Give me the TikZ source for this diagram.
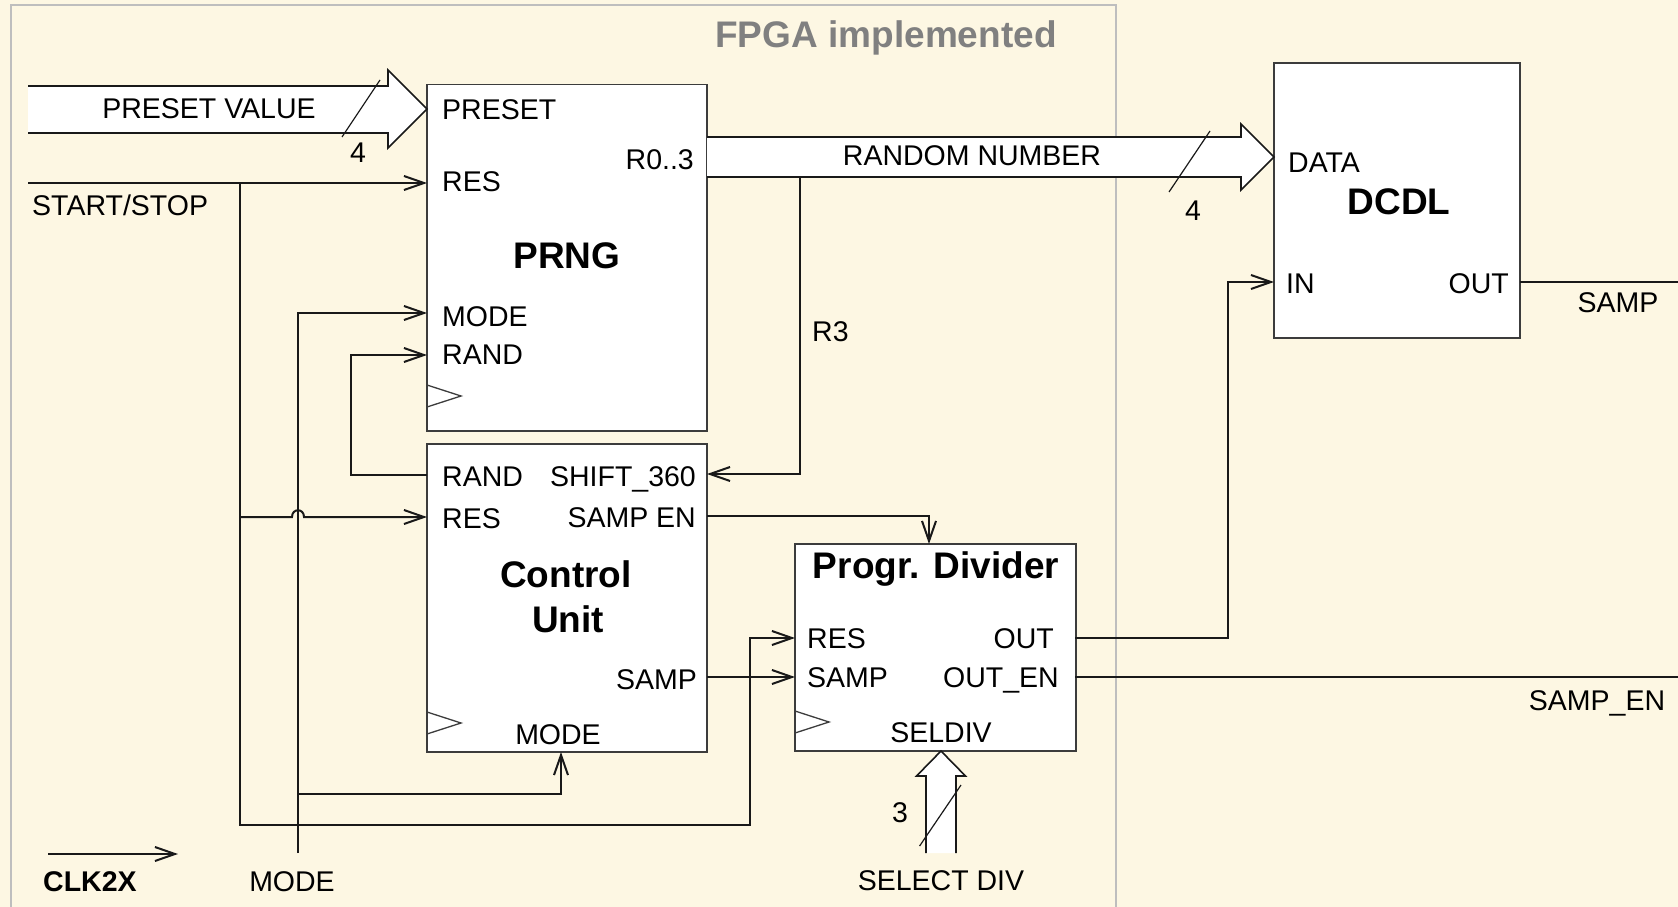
\documentclass[tikz,border=0pt]{standalone}
\usepackage{fontspec}
\setmainfont{Liberation Sans}
\usetikzlibrary{arrows.meta}
\definecolor{bgc}{RGB}{253,247,227}
\definecolor{fpgac}{RGB}{190,190,190}
\definecolor{boxc}{RGB}{60,60,60}
\definecolor{wirec}{RGB}{25,25,25}
\definecolor{grayt}{RGB}{128,128,128}
\begin{document}
\begin{tikzpicture}[x=1pt,y=-1pt,
  lbl/.style={inner sep=0pt, font=\fontsize{28.5}{34}\selectfont, text=black},
  blbl/.style={inner sep=0pt, font=\fontsize{37}{44}\selectfont\bfseries, text=black},
  blk/.style={draw=boxc, line width=1.5pt, fill=white, inner sep=0pt, outer sep=0pt, anchor=north west},
  wire/.style={draw=wirec, line width=2pt},
  arr/.style={wire, -{Straight Barb[length=20pt,width=14pt]}},
  clk/.style={draw=boxc, line width=1.3pt},
  bus/.style={draw=wirec, line width=1.6pt, line join=miter},
  slash/.style={draw=wirec, line width=1.2pt}]
\useasboundingbox (0,0) rectangle (1678,907);
\clip (0,0) rectangle (1678,907);
\fill[bgc] (0,0) rectangle (1678,907);
% FPGA region
\draw[fpgac, line width=2pt] (11,920) -- (11,5) -- (1116,5) -- (1116,920);
\node[blbl, text=grayt, anchor=base] (fpgatitle) at (886,48) {FPGA implemented};

% blocks
\node[blk, minimum width=280pt, minimum height=346.5pt] (prng) at (427,84.5) {};
\node[blk, minimum width=280pt, minimum height=308pt] (cu) at (427,444) {};
\node[blk, minimum width=281pt, minimum height=207pt] (div) at (795,544) {};
\node[blk, minimum width=246pt, minimum height=275pt] (dcdl) at (1274,63) {};

% clock triangles
\draw[clk] (427,385) -- (461,396) -- (427,407);
\draw[clk] (427,712) -- (461,723) -- (427,734);
\draw[clk] (795,711) -- (829,722) -- (795,733);

% pin coordinates
\coordinate (ssin) at (28,183);
\coordinate (prngres) at (427,183);
\coordinate (prngmode) at (427,313);
\coordinate (prngrand) at (427,355);
\coordinate (curand) at (427,475);
\coordinate (cures) at (427,517);
\coordinate (cushift) at (707,474);
\coordinate (cusampen) at (707,516);
\coordinate (cusamp) at (707,677);
\coordinate (cumode) at (561,752);
\coordinate (divtop) at (929,544);
\coordinate (divres) at (795,638);
\coordinate (divsamp) at (795,677);
\coordinate (divout) at (1075,638);
\coordinate (divouten) at (1075,677);
\coordinate (dcdlin) at (1274,282);
\coordinate (dcdlout) at (1520,282);
\coordinate (sampout) at (1678,282);
\coordinate (sampen) at (1678,677);
\coordinate (modein) at (298,853);
\coordinate (clkA) at (48,854);
\coordinate (clkB) at (178,854);

% wires
\draw[arr] (ssin) -- (prngres);
\draw[arr] (240,183) -- (240,825) -- (750,825) -- (750,638) -- (divres);
\draw[arr] (240,517) -- (292,517) .. controls (292,508) and (304,508) .. (304,517) -- (cures);
\draw[arr] (modein) -- (298,313) -- (prngmode);
\draw[arr] (298,794) -- (561,794) -- (cumode);
\draw[arr] (curand) -- (351,475) -- (351,355) -- (prngrand);
\draw[arr] (800,177) -- (800,474) -- (cushift);
\draw[arr] (cusampen) -- (929,516) -- (divtop);
\draw[arr] (cusamp) -- (divsamp);
\draw[arr] (divout) -- (1228,638) -- (1228,282) -- (dcdlin);
\draw[wire] (divouten) -- (sampen);
\draw[wire] (dcdlout) -- (sampout);
\draw[arr] (clkA) -- (clkB);

% bus arrows
\fill[white] (28,86) -- (388,86) -- (388,70) -- (427,109) -- (388,148) -- (388,133) -- (28,133) -- cycle;
\draw[bus] (28,86) -- (388,86) -- (388,70) -- (427,109) -- (388,148) -- (388,133) -- (28,133);
\draw[slash] (342,137) -- (380,80);

\fill[white] (707,137) -- (1241,137) -- (1241,124) -- (1274,157) -- (1241,190) -- (1241,177) -- (707,177) -- cycle;
\draw[bus] (707,137) -- (1241,137) -- (1241,124) -- (1274,157) -- (1241,190) -- (1241,177) -- (707,177);
\draw[slash] (1169,192) -- (1210,131);

\fill[white] (926,853) -- (926,776) -- (916.5,776) -- (941,751) -- (965.5,776) -- (956,776) -- (956,853) -- cycle;
\draw[bus] (926,853) -- (926,776) -- (916.5,776) -- (941,751) -- (965.5,776) -- (956,776) -- (956,853);
\draw[slash] (919.6,846) -- (961,785);

% outside labels
\node[lbl, anchor=base] (tpv) at (209,118) {PRESET VALUE};
\node[lbl, anchor=base] (t4a) at (358,162) {4};
\node[lbl, anchor=base west] (tss) at (32,215) {START/STOP};
\node[lbl, anchor=base] (trn) at (972,165) {RANDOM NUMBER};
\node[lbl, anchor=base] (t4b) at (1193,220) {4};
\node[lbl, anchor=base west] (tr3) at (812,341) {R3};
\node[lbl, anchor=base] (tsamp) at (1618,312) {SAMP};
\node[lbl, anchor=base] (tsampen) at (1597,710) {SAMP\_EN};
\node[lbl, anchor=base] (t3) at (900,822) {3};
\node[lbl, anchor=base] (tsel) at (941,890) {SELECT DIV};
\node[lbl, anchor=base] (tmode) at (292,891) {MODE};
\node[lbl, anchor=base west, font=\fontsize{28.5}{34}\selectfont\bfseries] (tclk) at (43,891) {CLK2X};

% PRNG labels
\node[lbl, anchor=base west] at (442,119) {PRESET};
\node[lbl, anchor=base west] at (442,191) {RES};
\node[lbl, anchor=base east] at (694,169) {R0..3};
\node[blbl, anchor=base] at (567,268) {PRNG};
\node[lbl, anchor=base west] at (442,326) {MODE};
\node[lbl, anchor=base west] at (442,364) {RAND};

% Control unit labels
\node[lbl, anchor=base west] at (442,486) {RAND};
\node[lbl, anchor=base east] at (696,486) {SHIFT\_360};
\node[lbl, anchor=base west] at (442,528) {RES};
\node[lbl, anchor=base east] at (696,527) {SAMP EN};
\node[blbl, anchor=base] at (566,587) {Control};
\node[blbl, anchor=base] at (568,632) {Unit};
\node[lbl, anchor=base east] at (697,689) {SAMP};
\node[lbl, anchor=base] at (558,744) {MODE};

% Divider labels
\node[blbl, anchor=base] at (936,578) {Progr. Divider};
\node[lbl, anchor=base west] at (807,648) {RES};
\node[lbl, anchor=base east] at (1054,648) {OUT};
\node[lbl, anchor=base west] at (807,687) {SAMP};
\node[lbl, anchor=base east] at (1059,687) {OUT\_EN};
\node[lbl, anchor=base] at (941,742) {SELDIV};

% DCDL labels
\node[lbl, anchor=base west] at (1288,172) {DATA};
\node[blbl, anchor=base] at (1399,214) {DCDL};
\node[lbl, anchor=base west] at (1286,293) {IN};
\node[lbl, anchor=base east] at (1509,293) {OUT};
\end{tikzpicture}
\end{document}
